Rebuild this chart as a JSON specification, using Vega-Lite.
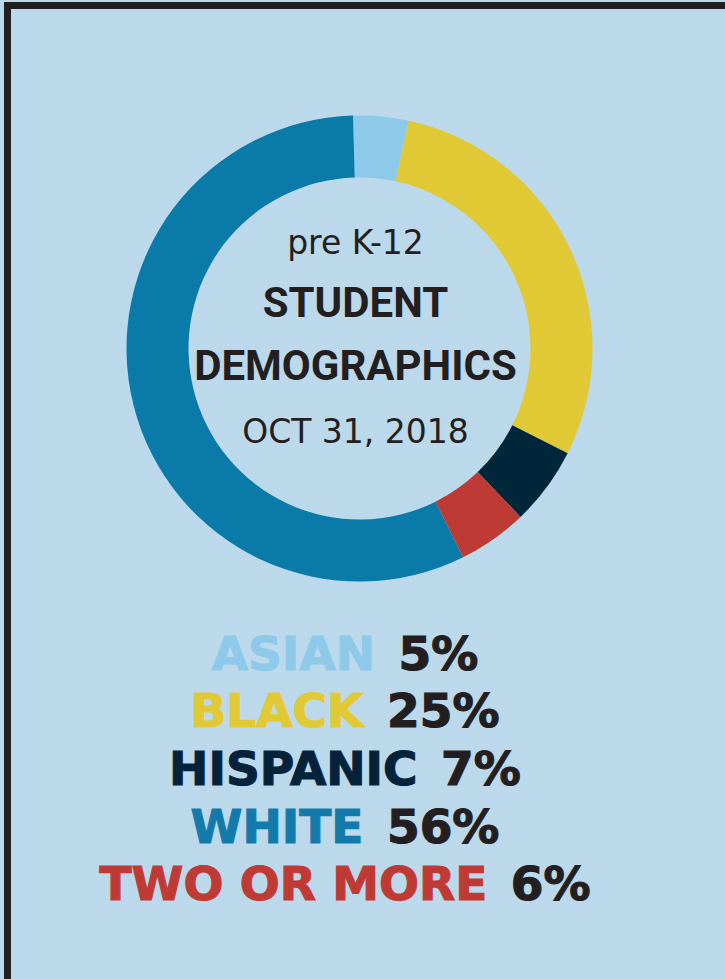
{
  "$schema": "https://vega.github.io/schema/vega-lite/v6.json",
  "background": "#bbd9ea",
  "padding": {"left": 4, "top": 2, "right": 0, "bottom": 0},
  "bounds": "flush",
  "spacing": 0,
  "config": {"view": {"stroke": null}, "concat": {"spacing": 0}},
  "datasets": {
    "groups": [
      {"group": "ASIAN", "pct": 5, "arc_share": 3.83, "ring_order": 1, "legend_row": 1, "line": "ASIAN\u20025%"},
      {"group": "BLACK", "pct": 25, "arc_share": 29.03, "ring_order": 2, "legend_row": 2, "line": "BLACK\u200225%"},
      {"group": "HISPANIC", "pct": 7, "arc_share": 5.44, "ring_order": 3, "legend_row": 3, "line": "HISPANIC\u20027%"},
      {"group": "WHITE", "pct": 56, "arc_share": 56.89, "ring_order": 5, "legend_row": 4, "line": "WHITE\u200256%"},
      {"group": "TWO OR MORE", "pct": 6, "arc_share": 4.81, "ring_order": 4, "legend_row": 5, "line": "TWO OR MORE\u20026%"}
    ],
    "centre": [
      {"row": 1, "text": "pre K-12", "style": "sub"},
      {"row": 2, "text": "STUDENT", "style": "title"},
      {"row": 3, "text": "DEMOGRAPHICS", "style": "title"},
      {"row": 4, "text": "OCT 31, 2018", "style": "sub"}
    ]
  },
  "vconcat": [
    {
      "width": 721,
      "height": 7,
      "view": {"fill": "#231f20", "stroke": null},
      "data": {"values": []},
      "mark": "text",
      "encoding": {}
    },
    {
      "spacing": 0,
      "bounds": "flush",
      "hconcat": [
        {
          "width": 7,
          "height": 970,
          "view": {"fill": "#231f20", "stroke": null},
          "data": {"values": []},
          "mark": "text",
          "encoding": {}
        },
        {
          "spacing": 0,
          "bounds": "flush",
          "vconcat": [
            {
              "width": 697,
              "height": 679,
              "layer": [
                {
                  "data": {"name": "groups"},
                  "mark": {"type": "arc", "outerRadius": 233, "innerRadius": 171},
                  "encoding": {
                    "theta": {"field": "arc_share", "type": "quantitative", "stack": true, "scale": {"range": [-0.0279, 6.2553]}},
                    "color": {
                      "field": "group",
                      "type": "nominal",
                      "scale": {
                        "domain": ["ASIAN", "BLACK", "HISPANIC", "WHITE", "TWO OR MORE"],
                        "range": ["#8fc9e9", "#e1c935", "#00263a", "#0a7aa9", "#be3b35"]
                      },
                      "legend": null
                    },
                    "order": {"field": "ring_order", "type": "quantitative"}
                  }
                },
                {
                  "data": {"name": "centre"},
                  "transform": [{"filter": "datum.style === 'sub'"}],
                  "mark": {"type": "text", "font": "DejaVu Sans", "fontSize": 33, "color": "#231f20", "dx": -4, "baseline": "alphabetic"},
                  "encoding": {
                    "y": {"field": "row", "type": "quantitative", "scale": {"domain": [-2.889, 7.889], "reverse": true, "nice": false, "zero": false}, "axis": null},
                    "text": {"field": "text"}
                  }
                },
                {
                  "data": {"name": "centre"},
                  "transform": [{"filter": "datum.style === 'title'"}],
                  "mark": {"type": "text", "font": "Roboto", "fontWeight": "bold", "fontSize": 42, "color": "#231f20", "dx": -4, "baseline": "alphabetic"},
                  "encoding": {
                    "y": {"field": "row", "type": "quantitative", "axis": null},
                    "text": {"field": "text"}
                  }
                }
              ]
            },
            {
              "width": 668,
              "height": 291,
              "data": {"name": "groups"},
              "mark": {"type": "text", "font": "DejaVu Sans", "fontWeight": "bold", "fontSize": 47, "dy": -48.5, "baseline": "alphabetic", "strokeWidth": 1.2},
              "encoding": {
                "y": {"field": "legend_row", "type": "ordinal", "scale": {"type": "point", "padding": 0.53}, "axis": null},
                "text": {"field": "line"},
                "fill": {
                  "condition": [
                    {"test": "datum.group === 'ASIAN'", "value": {"gradient": "linear", "x1": 0, "y1": 0, "x2": 1, "y2": 0, "stops": [{"offset": 0, "color": "#8fc9e9"}, {"offset": 0.657, "color": "#8fc9e9"}, {"offset": 0.657, "color": "#231f20"}, {"offset": 1, "color": "#231f20"}]}},
                    {"test": "datum.group === 'BLACK'", "value": {"gradient": "linear", "x1": 0, "y1": 0, "x2": 1, "y2": 0, "stops": [{"offset": 0, "color": "#e1c935"}, {"offset": 0.598, "color": "#e1c935"}, {"offset": 0.598, "color": "#231f20"}, {"offset": 1, "color": "#231f20"}]}},
                    {"test": "datum.group === 'HISPANIC'", "value": {"gradient": "linear", "x1": 0, "y1": 0, "x2": 1, "y2": 0, "stops": [{"offset": 0, "color": "#04233a"}, {"offset": 0.743, "color": "#04233a"}, {"offset": 0.743, "color": "#231f20"}, {"offset": 1, "color": "#231f20"}]}},
                    {"test": "datum.group === 'WHITE'", "value": {"gradient": "linear", "x1": 0, "y1": 0, "x2": 1, "y2": 0, "stops": [{"offset": 0, "color": "#137bab"}, {"offset": 0.598, "color": "#137bab"}, {"offset": 0.598, "color": "#231f20"}, {"offset": 1, "color": "#231f20"}]}},
                    {"test": "datum.group === 'TWO OR MORE'", "value": {"gradient": "linear", "x1": 0, "y1": 0, "x2": 1, "y2": 0, "stops": [{"offset": 0, "color": "#c03a35"}, {"offset": 0.8135, "color": "#c03a35"}, {"offset": 0.8135, "color": "#231f20"}, {"offset": 1, "color": "#231f20"}]}}
                  ],
                  "value": "#231f20"
                },
                "stroke": {
                  "condition": [
                    {"test": "datum.group === 'ASIAN'", "value": {"gradient": "linear", "x1": 0, "y1": 0, "x2": 1, "y2": 0, "stops": [{"offset": 0, "color": "#8fc9e9"}, {"offset": 0.657, "color": "#8fc9e9"}, {"offset": 0.657, "color": "#231f20"}, {"offset": 1, "color": "#231f20"}]}},
                    {"test": "datum.group === 'BLACK'", "value": {"gradient": "linear", "x1": 0, "y1": 0, "x2": 1, "y2": 0, "stops": [{"offset": 0, "color": "#e1c935"}, {"offset": 0.598, "color": "#e1c935"}, {"offset": 0.598, "color": "#231f20"}, {"offset": 1, "color": "#231f20"}]}},
                    {"test": "datum.group === 'HISPANIC'", "value": {"gradient": "linear", "x1": 0, "y1": 0, "x2": 1, "y2": 0, "stops": [{"offset": 0, "color": "#04233a"}, {"offset": 0.743, "color": "#04233a"}, {"offset": 0.743, "color": "#231f20"}, {"offset": 1, "color": "#231f20"}]}},
                    {"test": "datum.group === 'WHITE'", "value": {"gradient": "linear", "x1": 0, "y1": 0, "x2": 1, "y2": 0, "stops": [{"offset": 0, "color": "#137bab"}, {"offset": 0.598, "color": "#137bab"}, {"offset": 0.598, "color": "#231f20"}, {"offset": 1, "color": "#231f20"}]}},
                    {"test": "datum.group === 'TWO OR MORE'", "value": {"gradient": "linear", "x1": 0, "y1": 0, "x2": 1, "y2": 0, "stops": [{"offset": 0, "color": "#c03a35"}, {"offset": 0.8135, "color": "#c03a35"}, {"offset": 0.8135, "color": "#231f20"}, {"offset": 1, "color": "#231f20"}]}}
                  ],
                  "value": "#231f20"
                }
              }
            }
          ]
        }
      ]
    }
  ]
}
